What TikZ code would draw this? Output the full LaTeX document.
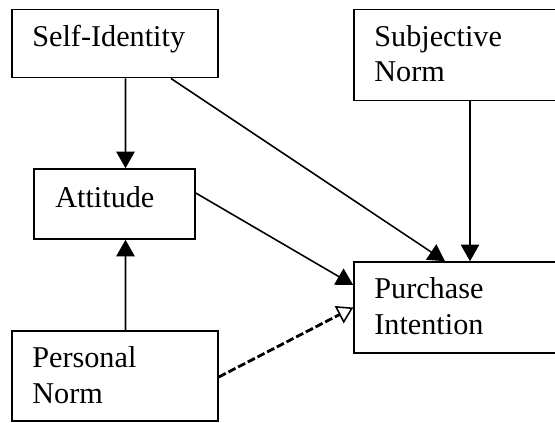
\documentclass[tikz,border=0pt]{standalone}
\usepackage{fontspec}
\setmainfont{Liberation Serif}
\usetikzlibrary{arrows.meta}

\begin{document}
\begin{tikzpicture}[x=0.02cm,y=-0.02cm,
  box/.style={draw,line width=0.9pt,inner sep=0pt},
  txt/.style={anchor=base west,align=left,inner sep=0pt,
    font=\fontsize{17.2pt}{20.2pt}\selectfont},
  arr/.style={line width=0.9pt,-{Triangle[length=9.5pt,width=10.5pt]}},
  darr/.style={line width=1.6pt,dash pattern=on 4.5pt off 1.7pt,
    -{Triangle[open,length=9pt,width=11pt,line width=0.9pt]}}]
  \clip (0,0) rectangle (555,423);
  \node[box,minimum width=4.12cm,minimum height=1.368cm] (selfid) at (115,43.5) {};
  \node[box,minimum width=4.42cm,minimum height=1.828cm] (subj) at (464.5,55) {};
  \node[box,minimum width=3.22cm,minimum height=1.4cm] (att) at (114.5,204) {};
  \node[box,minimum width=4.42cm,minimum height=1.82cm] (purch) at (464.5,307.5) {};
  \node[box,minimum width=4.12cm,minimum height=1.8cm] (pnorm) at (115,376) {};
  \node[txt] (selfidtxt) at (32,46.7) {Self-Identity};
  \node[txt] (subjtxt) at (374,81.7) {Subjective\\Norm};
  \node[txt] (atttxt) at (55,207) {Attitude};
  \node[txt] (purchtxt) at (374,334) {Purchase\\Intention};
  \node[txt] (pnormtxt) at (32,403) {Personal\\Norm};
  \draw[arr] ([xshift=0.21cm]selfid.south) -- ([xshift=0.22cm]att.north);
  \draw[arr] ([xshift=1.12cm]selfid.south) -- ([xshift=-0.39cm]purch.north);
  \draw[arr] ([xshift=0.11cm]subj.south) -- ([xshift=0.11cm]purch.north);
  \draw[arr] ([yshift=0.22cm]att.east) -- ([yshift=0.45cm]purch.west);
  \draw[arr] ([xshift=0.21cm]pnorm.north) -- ([xshift=0.22cm]att.south);
  \draw[darr] ([yshift=-0.02cm]pnorm.east) -- (purch.west);
\end{tikzpicture}
\end{document}
